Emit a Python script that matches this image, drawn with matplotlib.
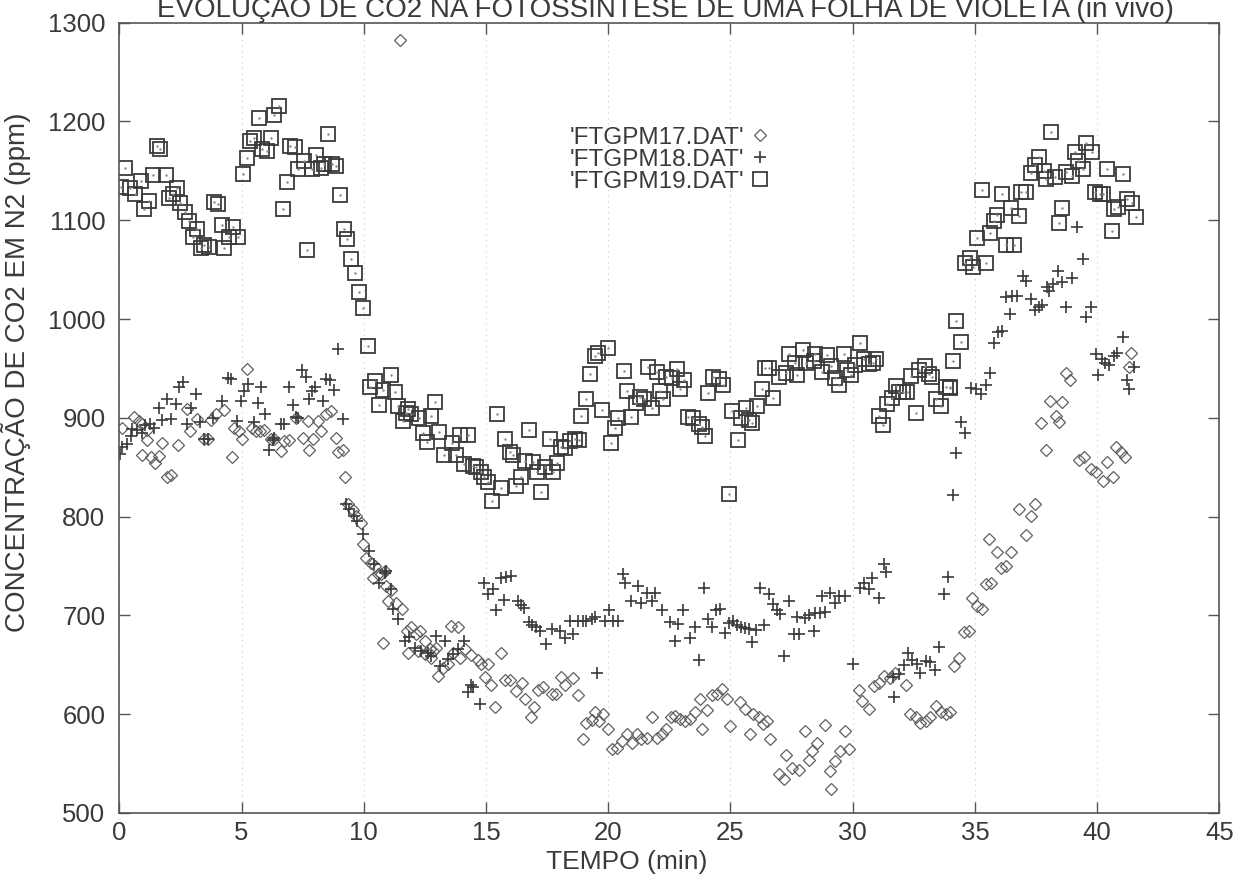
import matplotlib
matplotlib.use('Agg')
import matplotlib.pyplot as plt

plt.rcParams['font.family'] = ['Liberation Sans', 'DejaVu Sans']

title = 'EVOLUÇÃO DE CO2 NA FOTOSSINTESE DE UMA FOLHA DE VIOLETA (in vivo)'
xlabel = 'TEMPO (min)'
ylabel = 'CONCENTRAÇÃO DE CO2 EM N2 (ppm)'
labels = ["'FTGPM17.DAT'", "'FTGPM18.DAT'", "'FTGPM19.DAT'"]

# FTGPM17 (diamonds)
t17 = [0.12, 0.6, 0.81, 0.94, 1.12, 1.15, 0.94, 1.31, 1.45, 1.63, 1.76, 1.97, 2.1, 2.38, 2.76,
       2.9, 3.17, 3.47, 3.61, 3.77, 3.95, 4.29, 4.59, 4.7, 4.9, 5.0, 5.22, 5.41, 5.59, 5.77,
       5.93, 6.2, 6.34, 6.61, 6.75, 6.95, 7.23, 7.5, 7.7, 7.77, 7.91, 8.11, 8.25, 8.46, 8.66,
       8.87, 8.93, 9.14, 9.23, 9.34, 9.55, 9.69, 9.89, 9.96, 10.1, 10.3, 10.44, 10.37, 10.57,
       10.71, 10.85, 10.92, 11.12, 10.98, 11.3, 11.55, 10.78, 11.48,
       11.78, 11.94, 12.14, 12.28, 12.49, 12.69, 12.83, 12.96, 11.8, 12.21, 12.49, 12.73,
       13.58, 13.85, 13.03, 13.24, 13.44, 13.65, 13.92, 14.15, 14.4, 14.67, 14.81,
       15.08, 14.95, 15.22, 15.38, 15.6, 15.79, 15.97, 16.24, 16.48, 16.61, 16.83, 16.97,
       17.13, 17.34, 17.68, 17.88, 18.06, 18.25, 18.57, 18.77, 18.98, 19.11, 19.32, 19.45,
       19.62, 19.8, 20.0, 20.14, 20.34, 20.55, 20.75, 20.96, 21.16, 21.36, 21.57, 21.78,
       21.98, 22.19, 22.35, 22.57, 22.73, 22.94, 23.14, 23.35, 23.55, 23.76, 23.82, 24.03,
       24.23, 24.44, 24.67, 24.85, 24.98, 25.4, 25.6, 25.81, 25.94, 26.15, 26.35, 26.49,
       26.63, 26.97, 27.21, 27.27, 27.51, 27.79, 28.03, 28.2, 28.33, 28.54, 28.85, 29.09,
       29.13, 29.29, 29.5, 29.7, 29.84, 30.25, 30.38, 30.66, 30.86, 31.07, 31.27, 31.54,
       31.75, 32.16, 32.36, 32.57, 32.77, 32.98, 33.18, 33.39, 33.6, 33.8, 34.0, 34.14,
       34.34, 34.55, 34.75, 34.89, 35.1, 35.3, 35.44, 35.64, 36.05, 36.26, 35.91, 36.46,
       35.57, 37.08, 36.8, 37.28, 37.46, 37.9, 37.69, 38.3, 38.44, 38.06, 38.58, 38.72,
       38.88, 39.26, 39.47, 39.74, 39.95, 40.22, 40.42, 40.63, 40.77, 40.97, 41.15, 41.38,
       41.31]
v17 = [890, 901, 897, 894, 888, 878, 862, 860, 854, 861, 875, 840, 842, 873, 909,
       887, 899, 879, 879, 898, 904, 908, 860, 890, 887, 879, 949, 890, 887, 887,
       888, 879, 879, 866, 877, 878, 900, 880, 897, 867, 879, 897, 887, 904, 907,
       880, 865, 867, 840, 813, 807, 801, 794, 772, 758, 753, 750, 738, 742,
       742, 745, 730, 726, 715, 713, 706, 672, 1282,
       684, 688, 681, 684, 674, 666, 664, 667, 662, 664, 661, 657,
       689, 688, 639, 647, 651, 662, 657, 666, 660, 655, 651,
       651, 638, 630, 607, 662, 635, 635, 623, 632, 615, 597, 607,
       624, 628, 620, 620, 638, 630, 637, 619, 575, 591, 594, 602,
       593, 600, 585, 565, 566, 573, 580, 571, 580, 575, 576, 597,
       576, 580, 585, 597, 598, 595, 593, 595, 602, 615, 585, 604,
       619, 620, 626, 615, 588, 612, 605, 580, 600, 597, 590, 593,
       575, 539, 534, 559, 546, 544, 583, 554, 563, 571, 589, 543,
       524, 553, 563, 583, 565, 625, 613, 605, 629, 632, 639, 637,
       642, 630, 600, 597, 591, 593, 597, 608, 602, 600, 602, 649,
       657, 683, 684, 718, 710, 706, 732, 733, 748, 750, 764, 764,
       777, 781, 808, 801, 813, 867, 895, 902, 896, 917, 916, 945,
       938, 857, 860, 848, 845, 836, 855, 840, 870, 865, 860, 966,
       951]

# FTGPM18 (plus)
t18 = [0.03, 0.12, 0.3, 0.46, 0.53, 0.71, 0.94, 1.04, 1.26, 1.42, 1.62, 1.76, 1.94, 2.1,
       2.31, 2.45, 2.62, 2.76, 2.95, 3.13, 3.31, 3.47, 3.61, 3.85, 4.22, 4.45, 4.56, 4.8,
       4.97, 5.11, 5.27, 5.49, 5.66, 5.79, 5.95, 6.13, 6.27, 6.34, 6.61, 6.72, 6.95, 7.09,
       7.23, 7.32, 7.46, 7.64, 7.77, 7.87, 8.0, 8.32, 8.46, 8.6, 8.8, 8.96, 9.14, 9.28,
       9.41, 9.62, 9.73, 9.96, 10.2, 10.4, 10.64, 10.85, 10.9, 11.12, 11.19, 11.39, 11.67,
       11.87, 12.1, 12.35, 12.62, 12.76, 12.96, 13.31, 13.1, 13.44, 13.65, 13.85, 14.1,
       14.4, 14.26, 14.47, 14.74, 14.92, 15.08, 15.29, 15.42, 15.6, 15.83, 16.01, 15.74,
       16.29, 16.42, 16.56, 16.75, 16.89, 17.06, 17.2, 17.47, 17.68, 18.02, 18.23, 18.43,
       18.57, 18.77, 18.98, 19.11, 19.32, 19.45, 19.56, 19.86, 20.03, 20.2, 20.38, 20.61,
       20.7, 20.93, 21.23, 21.36, 21.57, 21.78, 21.91, 22.19, 22.53, 22.73, 22.87, 23.07,
       23.35, 23.55, 23.7, 23.9, 24.1, 24.23, 24.4, 24.58, 24.78, 24.92, 25.12, 25.26,
       25.44, 25.6, 25.74, 25.87, 26.04, 26.39, 26.21, 26.56, 26.76, 26.9, 27.04, 27.21,
       27.38, 27.58, 27.79, 28.4, 27.72, 28.06, 28.2, 28.47, 28.68, 28.88, 28.74, 29.08,
       29.29, 29.43, 29.7, 30.0, 30.31, 30.45, 30.66, 30.79, 31.07, 31.27, 31.36, 31.64,
       31.68, 31.89, 32.09, 32.27, 32.43, 32.64, 32.77, 32.98, 33.18, 33.36, 33.52, 33.73,
       33.91, 34.1, 34.23, 34.45, 34.59, 34.82, 35.03, 35.23, 35.44, 35.6, 35.78, 35.96,
       36.1, 36.42, 36.26, 36.5, 36.73, 36.97, 37.1, 37.28, 37.46, 37.62, 37.76, 37.96,
       38.03, 38.2, 38.41, 38.58, 38.74, 38.96, 39.19, 39.43, 39.56, 39.74, 39.95, 40.05,
       40.19, 40.33, 40.49, 40.7, 40.83, 41.04, 41.24, 41.31, 41.52]
v18 = [863, 870, 874, 882, 889, 888, 885, 893, 894, 890, 910, 898, 919, 899,
       914, 931, 936, 894, 910, 924, 896, 879, 879, 900, 917, 940, 939, 897,
       917, 927, 934, 896, 915, 931, 904, 867, 878, 880, 894, 894, 931, 913,
       901, 900, 948, 941, 919, 927, 931, 917, 939, 938, 928, 970, 899, 813,
       808, 801, 796, 782, 765, 752, 733, 743, 745, 727, 706, 696, 674,
       678, 667, 664, 662, 659, 679, 674, 649, 656, 661, 666, 674,
       630, 622, 628, 610, 733, 722, 727, 705, 738, 739, 740, 716,
       715, 711, 708, 693, 690, 688, 684, 671, 686, 684, 677, 694,
       681, 694, 694, 694, 696, 698, 642, 694, 705, 694, 694, 742,
       733, 715, 730, 713, 723, 715, 723, 705, 693, 674, 691, 705,
       677, 688, 655, 728, 696, 688, 705, 706, 682, 692, 694, 690,
       688, 687, 686, 673, 685, 690, 728, 722, 712, 705, 701, 659,
       715, 681, 681, 684, 698, 697, 700, 702, 702, 703, 720, 723,
       713, 720, 720, 651, 728, 733, 727, 738, 718, 752, 744, 638,
       617, 641, 650, 662, 655, 651, 642, 654, 653, 645, 668, 722,
       739, 822, 864, 896, 885, 930, 929, 924, 933, 945, 976, 987,
       988, 1005, 1022, 1023, 1023, 1044, 1039, 1020, 1009, 1012, 1014, 1032,
       1028, 1035, 1049, 1037, 1012, 1042, 1093, 1061, 1002, 1012, 965, 943,
       960, 955, 953, 963, 966, 982, 938, 929, 951]

# FTGPM19 (squares)
t19 = [0.05, 0.25, 0.45, 0.66, 0.87, 1.0, 1.2, 1.39, 1.53, 1.67, 1.89, 2.04, 2.2, 2.34,
       2.5, 2.67, 2.83, 3.0, 3.16, 3.33, 3.48, 3.68, 3.88, 4.04, 4.18, 4.3, 4.5, 4.66,
       4.86, 5.04, 5.22, 5.36, 5.52, 5.72, 5.83, 6.04, 6.2, 6.34, 6.54, 6.68, 6.86, 7.0,
       7.2, 7.32, 7.54, 7.68, 7.87, 8.05, 8.23, 8.36, 8.52, 8.69, 8.87, 9.04, 9.2, 9.32,
       9.48, 9.64, 9.82, 9.96, 10.16, 10.27, 10.44, 10.64, 10.78, 11.12, 11.26, 11.42,
       11.6, 11.73, 11.8, 11.94, 12.24, 12.42, 12.6, 12.73, 12.92, 13.06, 13.28, 13.6,
       13.78, 13.92, 14.1, 14.26, 14.47, 14.6, 14.78, 14.92, 15.08, 15.25, 15.46, 15.6,
       15.77, 15.97, 16.1, 16.24, 16.45, 16.58, 16.75, 16.93, 17.1, 17.24, 17.4, 17.61,
       17.75, 17.92, 18.06, 18.25, 18.43, 18.64, 18.8, 18.9, 19.11, 19.25, 19.45, 19.59,
       19.75, 19.97, 20.1, 20.27, 20.41, 20.66, 20.75, 20.93, 21.12, 21.3, 21.48, 21.61,
       21.78, 21.98, 22.12, 22.25, 22.35, 22.6, 22.8, 22.94, 23.11, 23.28, 23.48, 23.72,
       23.85, 23.96, 24.1, 24.3, 24.54, 24.71, 24.92, 25.05, 25.3, 25.44, 25.63, 25.77,
       25.9, 26.08, 26.28, 26.76, 26.42, 26.56, 26.97, 27.27, 27.72, 27.4, 27.65, 27.95,
       28.09, 28.47, 28.4, 28.95, 28.74, 29.13, 29.26, 29.43, 29.63, 29.77, 29.95, 30.1,
       30.29, 30.45, 30.66, 30.82, 30.96, 31.07, 31.24, 31.4, 31.59, 31.78, 31.89, 32.05,
       32.22, 32.4, 32.57, 32.73, 32.95, 33.11, 33.25, 33.41, 33.6, 33.8, 33.96, 34.1,
       34.23, 34.41, 34.0, 34.6, 34.78, 34.92, 35.46, 35.1, 35.6, 35.78, 35.91, 36.26,
       36.6, 36.46, 36.8, 35.3, 36.1, 36.87, 37.1, 37.28, 37.46, 37.62, 37.83, 37.92,
       38.28, 38.1, 38.58, 38.44, 38.74, 38.96, 39.1, 39.23, 39.43, 39.56, 39.78, 39.92,
       40.11, 40.25, 40.42, 40.6, 40.7, 40.87, 41.07, 41.24, 41.42, 41.58]
v19 = [1134, 1153, 1133, 1127, 1140, 1111, 1119, 1146, 1175, 1172, 1146, 1123, 1127, 1133,
       1117, 1108, 1099, 1083, 1091, 1072, 1075, 1073, 1118, 1116, 1095, 1072, 1083, 1093,
       1083, 1147, 1163, 1180, 1183, 1203, 1172, 1170, 1183, 1207, 1216, 1111, 1139, 1175,
       1174, 1152, 1160, 1070, 1152, 1166, 1153, 1157, 1187, 1157, 1155, 1126, 1091, 1081,
       1061, 1047, 1027, 1011, 973, 931, 937, 913, 928, 943, 926, 912,
       897, 905, 909, 904, 900, 885, 876, 902, 916, 886, 862, 875,
       862, 883, 853, 883, 851, 850, 845, 840, 835, 816, 904, 829,
       879, 865, 862, 831, 840, 856, 888, 855, 845, 825, 850, 879,
       845, 854, 870, 869, 877, 879, 878, 902, 919, 944, 963, 966,
       908, 971, 875, 890, 900, 947, 927, 901, 915, 921, 919, 951,
       910, 946, 927, 919, 941, 940, 949, 929, 938, 901, 900, 894,
       891, 882, 925, 941, 939, 933, 823, 907, 878, 900, 910, 898,
       895, 912, 929, 920, 950, 950, 941, 945, 943, 965, 956, 969,
       956, 965, 958, 964, 946, 952, 940, 933, 965, 948, 943, 953,
       976, 960, 954, 956, 960, 902, 893, 914, 920, 932, 926, 926,
       926, 942, 905, 948, 952, 944, 941, 919, 912, 931, 931, 958,
       998, 977, 930, 1057, 1062, 1053, 1057, 1082, 1087, 1099, 1105, 1075,
       1075, 1112, 1104, 1131, 1127, 1129, 1129, 1148, 1156, 1164, 1150, 1142,
       1144, 1189, 1112, 1097, 1149, 1145, 1169, 1160, 1152, 1178, 1169, 1129,
       1127, 1127, 1152, 1089, 1111, 1113, 1147, 1122, 1117, 1103]

ink = '#3a3a3a'

fig = plt.figure(figsize=(12.43, 8.89), dpi=100)
ax = fig.add_axes([0.096, 0.0855, 0.885, 0.889])

ax.plot(t17, v17, linestyle='none', marker='D', ms=6.3, mfc='none', mec='#606060',
        mew=0.9, label=labels[0])
ax.plot(t18, v18, linestyle='none', marker='+', ms=9, mec=ink, mew=1.2, label=labels[1])
ax.plot(t19, v19, linestyle='none', marker='s', ms=9.5, mfc='none', mec=ink, mew=1.3,
        label=labels[2])
ax.plot(t19, v19, linestyle='none', marker='.', ms=1.5, color='#888888')

ax.set_xlim(0, 45)
ax.set_ylim(500, 1300)
ax.set_xticks(range(0, 46, 5))
ax.set_yticks(range(500, 1301, 100))
ax.grid(axis='x', linestyle=(0, (1, 4)), color='#c8c8c8', linewidth=0.8)

for s in ax.spines.values():
    s.set_color('#555555')
    s.set_linewidth(1.2)
ax.tick_params(direction='in', top=True, right=True, length=8, width=1,
               color='#555555', labelsize=18.5, labelcolor=ink)
ax.tick_params(axis='x', pad=6)
ax.tick_params(axis='y', pad=10)

ax.set_xlabel(xlabel, fontsize=19, color=ink)
ax.xaxis.set_label_coords(0.461, -0.047)
ax.set_ylabel(ylabel, fontsize=20, color=ink)
ax.yaxis.set_label_coords(-0.080, 0.558)

fig.text(0.535, 0.981, title, ha='center', va='baseline', fontsize=20, color=ink)

leg = ax.legend(loc='upper right', bbox_to_anchor=(0.601, 0.884), frameon=False,
                markerfirst=False, fontsize=17.5, labelspacing=0.0, handletextpad=0.3,
                handlelength=0.7, borderpad=0)
for txt in leg.get_texts():
    txt.set_color(ink)

fig.savefig('out.png', dpi=100)
